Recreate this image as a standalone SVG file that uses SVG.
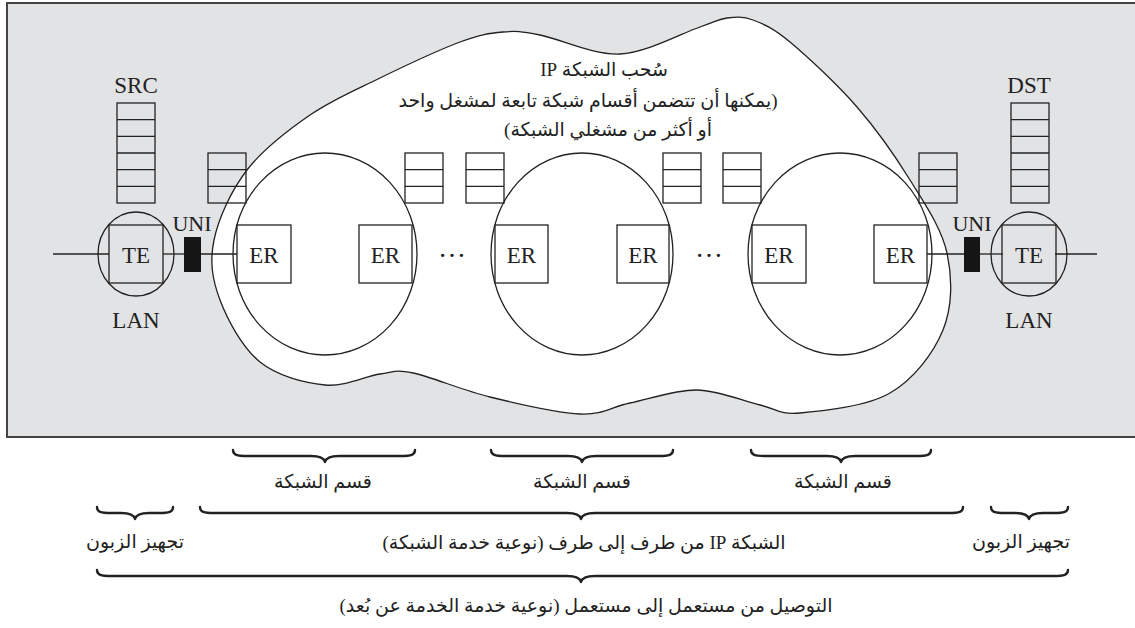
<svg xmlns="http://www.w3.org/2000/svg" width="1135" height="628" viewBox="0 0 1135 628">
<style>
.ln{fill:none;stroke:#222;stroke-width:1.3}
.bx{fill:none;stroke:#222;stroke-width:1.3}
.lat{font-family:'Liberation Serif','Times New Roman',serif;font-size:23px;fill:#222;text-anchor:middle}
.ar{font-family:'Liberation Serif','DejaVu Sans',serif;font-size:19px;fill:#222;text-anchor:middle;direction:rtl;unicode-bidi:embed}
.br{fill:none;stroke:#222;stroke-width:2.4;stroke-linecap:round;stroke-linejoin:round}
</style>
<defs>
<g id="q3">
<rect class="bx" x="0" y="0" width="38" height="50"/>
<line class="ln" x1="0" y1="16.7" x2="38" y2="16.7"/>
<line class="ln" x1="0" y1="33.3" x2="38" y2="33.3"/>
</g>
<g id="q6">
<rect class="bx" x="0" y="0" width="38" height="100"/>
<line class="ln" x1="0" y1="16.7" x2="38" y2="16.7"/>
<line class="ln" x1="0" y1="33.3" x2="38" y2="33.3"/>
<line class="ln" x1="0" y1="50" x2="38" y2="50"/>
<line class="ln" x1="0" y1="66.7" x2="38" y2="66.7"/>
<line class="ln" x1="0" y1="83.3" x2="38" y2="83.3"/>
</g>
</defs>
<rect id="bg" x="7" y="3" width="1140" height="434" fill="#e2e3e5" stroke="#444" stroke-width="2"/>
<g id="cloud">
<path fill="#fff" stroke="#222" stroke-width="1.3" d="M380,78 C405,65.8 439.5,49.7 460,42 C480.5,34.3 489.7,33.2 503,32 C516.3,30.8 520.5,31.3 540,35 C559.5,38.7 593.3,55.3 620,54 C646.7,52.7 682.2,33 700,27 C717.8,21 718.2,19.2 727,18 C735.8,16.8 742.5,16 753,20 C763.5,24 772.7,27.5 790,42 C807.3,56.5 837,84 857,107 C877,130 895,155.7 910,180 C925,204.3 941.5,228 947,253 C952.5,278 952.5,306.7 943,330 C933.5,353.3 913.8,379.2 890,393 C866.2,406.8 821.7,411 800,413 C778.3,415 777.2,408.8 760,405 C742.8,401.2 718.7,390.3 697,390 C675.3,389.7 649.5,399 630,403 C610.5,407 603.3,415 580,414 C556.7,413 517.8,403.8 490,397 C462.2,390.2 431.3,376.8 413,373 C394.7,369.2 394.7,372 380,374 C365.3,376 345,387 325,385 C305,383 277.5,376.2 260,362 C242.5,347.8 227.7,320.3 220,300 C212.3,279.7 209.5,261.7 214,240 C218.5,218.3 231,190.8 247,170 C263,149.2 287.8,130.3 310,115 C332.2,99.7 355,90.2 380,78 Z"/>
<text class="ar" x="604" y="76">سُحب الشبكة IP</text>
<text class="ar" x="588" y="107">(يمكنها أن تتضمن أقسام شبكة تابعة لمشغل واحد</text>
<text class="ar" x="608" y="136">أو أكثر من مشغلي الشبكة)</text>
</g>
<g id="domains">
<ellipse class="bx" cx="325" cy="254" rx="92" ry="101"/>
<ellipse class="bx" cx="582" cy="254" rx="91" ry="101"/>
<ellipse class="bx" cx="840" cy="254" rx="92" ry="101"/>
</g>
<g id="connectors">
<line class="ln" x1="53" y1="254" x2="109" y2="254"/>
<line class="ln" x1="163" y1="254" x2="184" y2="254"/>
<line class="ln" x1="201" y1="254" x2="237" y2="254"/>
<line class="ln" x1="927" y1="254" x2="964" y2="254"/>
<line class="ln" x1="980" y1="254" x2="1003" y2="254"/>
<line class="ln" x1="1055" y1="254" x2="1097" y2="254"/>
</g>
<g id="src">
<text class="lat" x="136" y="93">SRC</text>
<use href="#q6" x="117" y="103"/>
</g>
<g id="dst">
<text class="lat" x="1029" y="93">DST</text>
<use href="#q6" x="1011" y="103"/>
</g>
<g id="queues">
<use href="#q3" x="208" y="153"/>
<use href="#q3" x="405" y="153"/>
<use href="#q3" x="466" y="153"/>
<use href="#q3" x="663" y="153"/>
<use href="#q3" x="723" y="153"/>
<use href="#q3" x="919" y="153"/>
</g>
<g id="te-left">
<ellipse class="bx" cx="136" cy="254" rx="38" ry="42"/>
<rect class="bx" x="109" y="225" width="54" height="58"/>
<text class="lat" x="136" y="263">TE</text>
<text class="lat" x="136" y="328">LAN</text>
</g>
<g id="te-right">
<ellipse class="bx" cx="1029" cy="254" rx="38" ry="42"/>
<rect class="bx" x="1002" y="225" width="54" height="58"/>
<text class="lat" x="1029" y="263">TE</text>
<text class="lat" x="1029" y="328">LAN</text>
</g>
<g id="uni-left">
<rect x="184" y="237" width="17" height="35" fill="#151515"/>
<text class="lat" x="192" y="231" style="font-size:22px">UNI</text>
</g>
<g id="uni-right">
<rect x="964" y="237" width="16" height="35" fill="#151515"/>
<text class="lat" x="972" y="231" style="font-size:22px">UNI</text>
</g>
<g id="er1"><rect class="bx" x="237" y="225" width="54" height="58"/><text class="lat" x="264" y="263">ER</text></g>
<g id="er2"><rect class="bx" x="359" y="225" width="53" height="58"/><text class="lat" x="385.5" y="263">ER</text></g>
<g id="er3"><rect class="bx" x="495" y="225" width="53" height="58"/><text class="lat" x="521.5" y="263">ER</text></g>
<g id="er4"><rect class="bx" x="617" y="225" width="52" height="58"/><text class="lat" x="643" y="263">ER</text></g>
<g id="er5"><rect class="bx" x="752" y="225" width="54" height="58"/><text class="lat" x="779" y="263">ER</text></g>
<g id="er6"><rect class="bx" x="874" y="225" width="53" height="58"/><text class="lat" x="900.5" y="263">ER</text></g>
<g id="dots">
<text class="lat" x="452" y="257" style="font-size:28px">…</text>
<text class="lat" x="709" y="257" style="font-size:28px">…</text>
</g>
<g id="braces">
<path class="br" d="M233,450 C233,455 237,456 247,456 L311,456 C319,456 324,458 325,462 C326,458 331,456 339,456 L401,456 C411,456 415,455 415,450"/>
<path class="br" d="M491,450 C491,455 495,456 505,456 L568,456 C576,456 581,458 582,462 C583,458 588,456 596,456 L659,456 C669,456 673,455 673,450"/>
<path class="br" d="M751,450 C751,455 755,456 765,456 L827,456 C835,456 840,458 841,462 C842,458 847,456 855,456 L917,456 C927,456 931,455 931,450"/>
<path class="br" d="M97,507 C97,512 101,513 111,513 L121,513 C129,513 134,515 135,519 C136,515 141,513 149,513 L159,513 C169,513 173,512 173,507"/>
<path class="br" d="M200,507 C200,512 204,513 214,513 L567,513 C575,513 580,515 581,519 C582,515 587,513 595,513 L949,513 C959,513 963,512 963,507"/>
<path class="br" d="M991,507 C991,512 995,513 1005,513 L1015,513 C1023,513 1028,515 1029,519 C1030,515 1035,513 1043,513 L1054,513 C1064,513 1068,512 1068,507"/>
<path class="br" d="M97,570 C97,575 101,576 111,576 L567,576 C575,576 580,578 581,582 C582,578 587,576 595,576 L1054,576 C1064,576 1068,575 1068,570"/>
</g>
<g id="labels">
<text class="ar" x="323" y="488">قسم الشبكة</text>
<text class="ar" x="582" y="488">قسم الشبكة</text>
<text class="ar" x="843" y="488">قسم الشبكة</text>
<text class="ar" x="135" y="548">تجهيز الزبون</text>
<text class="ar" x="584" y="549">الشبكة IP من طرف إلى طرف (نوعية خدمة الشبكة)</text>
<text class="ar" x="1021" y="548">تجهيز الزبون</text>
<text class="ar" x="586" y="612">التوصيل من مستعمل إلى مستعمل (نوعية خدمة الخدمة عن بُعد)</text>
</g>
</svg>
